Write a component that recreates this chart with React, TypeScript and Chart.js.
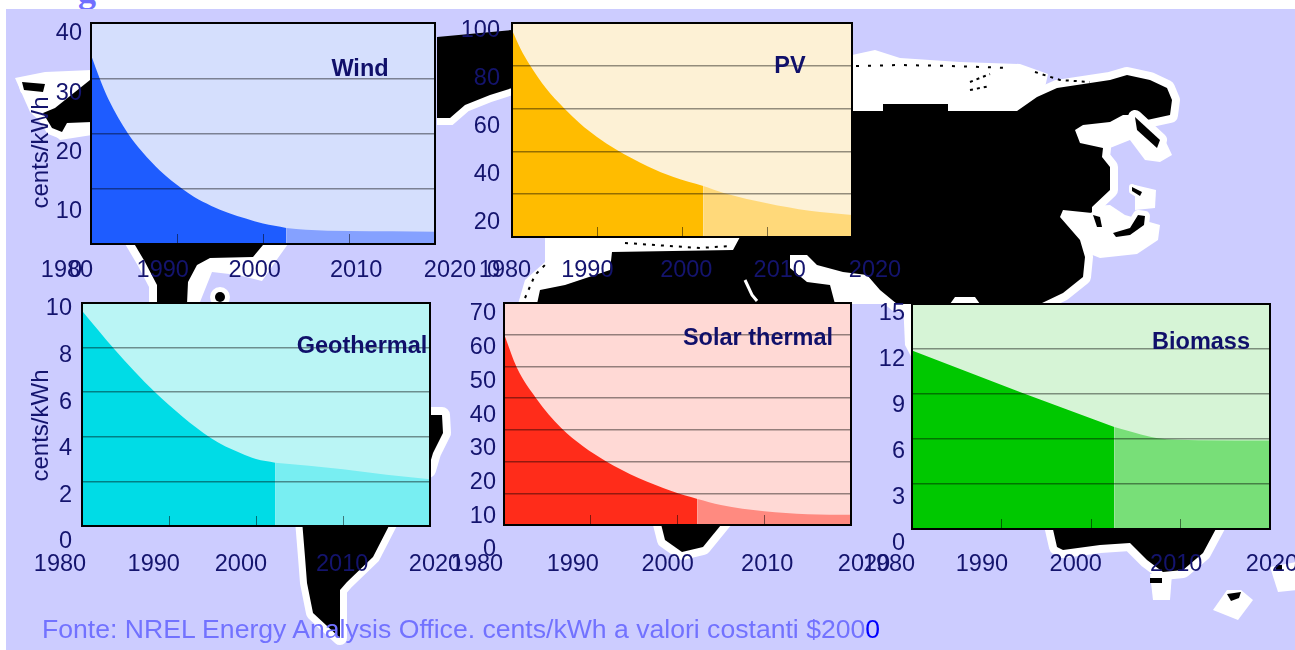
import React, { useEffect, useRef } from "react";
import { Chart, registerables } from "chart.js";

Chart.register(...registerables);

const yearTicks = [1980, 1990, 2000, 2010, 2020];

const windPastYears = [1980, 1981, 1982, 1984.3, 1986, 1988, 1990.6, 1992, 1994, 1996, 1998, 2000, 2002.7];
const windPastValues = [34.2, 30, 26.3, 20, 16.6, 13.3, 10, 8.5, 6.9, 5.6, 4.6, 3.7, 2.9];
const windNextYears = [2002.7, 2005, 2010, 2015, 2020];
const windNextValues = [2.9, 2.6, 2.35, 2.3, 2.2];

const pvPastYears = [1980, 1981, 1982.1, 1984, 1986.1, 1988, 1990, 1992.2, 1996, 1999, 2002.5];
const pvPastValues = [96.7, 88, 80.4, 69.5, 60.3, 53, 46.7, 41, 33, 28, 23.8];
const pvNextYears = [2002.5, 2005, 2010, 2015, 2020];
const pvNextValues = [23.8, 20.5, 15.8, 12.3, 10.3];

const geoPastYears = [1980, 1983.7, 1988.4, 1994.8, 1998.2, 2000, 2002.2];
const geoPastValues = [9.65, 7.94, 6, 3.95, 3.27, 3, 2.84];
const geoNextYears = [2002.2, 2010, 2015, 2020];
const geoNextValues = [2.84, 2.55, 2.3, 2.1];

const solarPastYears = [1980, 1981.5, 1983.7, 1986.6, 1991.7, 1999.3, 2002.3];
const solarPastValues = [60.2, 49.5, 40, 30.6, 20.2, 10.7, 8.2];
const solarNextYears = [2002.3, 2005, 2010, 2015, 2020];
const solarNextValues = [8.2, 6.3, 4.3, 3.4, 3.2];

const bioPastYears = [1980, 1992.2, 2002.6];
const bioPastValues = [11.9, 9.1, 6.8];
const bioNextYears = [2002.6, 2005, 2007.3, 2012, 2020];
const bioNextValues = [6.8, 6.4, 6.07, 5.92, 5.9];

const INK = "#14146E";
const FAMILY = "'Liberation Sans', Arial, sans-serif";
const PAGE_W = 1295;
const PAGE_H = 650;

type Panel = {
  name: string;
  yMax: number;
  yStep: number;
  past: [number[], number[]];
  next: [number[], number[]];
  colors: { bg: string; dark: string; light: string };
  frame: { l: number; t: number; r: number; b: number };
  labels: { l: number; t: number; r: number; b: number; yRight: number; xGap: number; nudge: number[] };
  titleAt: [number, number];
  unit: boolean;
};

const panels: Panel[] = [
  {
    name: "Wind", yMax: 40, yStep: 10,
    past: [windPastYears, windPastValues], next: [windNextYears, windNextValues],
    colors: { bg: "#D5DFFD", dark: "#1E5CFF", light: "#85A1FF" },
    frame: { l: 91, t: 23, r: 435, b: 244 },
    labels: { l: 67, t: 34, r: 450, b: 271, yRight: 82, xGap: -3, nudge: [0, 0, -0.4, 0.2, 0] },
    titleAt: [360, 70], unit: true,
  },
  {
    name: "PV", yMax: 100, yStep: 20,
    past: [pvPastYears, pvPastValues], next: [pvNextYears, pvNextValues],
    colors: { bg: "#FDF1D5", dark: "#FFBC00", light: "#FFD97A" },
    frame: { l: 512, t: 23, r: 852, b: 237 },
    labels: { l: 505, t: 31, r: 875, b: 271, yRight: 500, xGap: -3, nudge: [0, -1.1, -0.4, -0.3, 0] },
    titleAt: [790, 67], unit: false,
  },
  {
    name: "Geothermal", yMax: 10, yStep: 2,
    past: [geoPastYears, geoPastValues], next: [geoNextYears, geoNextValues],
    colors: { bg: "#BAF5F5", dark: "#00DCE6", light: "#78EEF2" },
    frame: { l: 82, t: 303, r: 430, b: 526 },
    labels: { l: 60, t: 309, r: 435, b: 542, yRight: 72, xGap: 20, nudge: [0, 0, -0.7, 0.1, 0] },
    titleAt: [362, 347], unit: true,
  },
  {
    name: "Solar thermal", yMax: 70, yStep: 10,
    past: [solarPastYears, solarPastValues], next: [solarNextYears, solarNextValues],
    colors: { bg: "#FFD9D5", dark: "#FF2C1A", light: "#FF8A80" },
    frame: { l: 504, t: 303, r: 851, b: 525 },
    labels: { l: 477, t: 314, r: 864, b: 550, yRight: 496, xGap: 12, nudge: [0, -0.1, -0.3, 0, 0] },
    titleAt: [758, 339], unit: false,
  },
  {
    name: "Biomass", yMax: 15, yStep: 3,
    past: [bioPastYears, bioPastValues], next: [bioNextYears, bioNextValues],
    colors: { bg: "#D6F4D6", dark: "#00C800", light: "#78DF78" },
    frame: { l: 912, t: 304, r: 1270, b: 529 },
    labels: { l: 889, t: 314, r: 1272, b: 544, yRight: 905, xGap: 18, nudge: [0, -0.3, -0.5, 0, 0] },
    titleAt: [1201, 343], unit: false,
  },
];

const zeroFit = (s: any) => {
  s.width = s.isHorizontal() ? s.width : 0;
  s.height = s.isHorizontal() ? 0 : s.height;
  s.paddingLeft = s.paddingRight = s.paddingTop = s.paddingBottom = 0;
};

function toXY(series: [number[], number[]]) {
  return series[0].map((x, i) => ({ x, y: series[1][i] }));
}

function makePlot(canvas: HTMLCanvasElement, p: Panel) {
  const { l, t, r, b } = p.frame;
  return new Chart(canvas, {
    type: "line",
    data: {
      datasets: [
        { label: p.name + " actual", data: toXY(p.past), backgroundColor: p.colors.dark, borderWidth: 0, pointRadius: 0, fill: "origin", cubicInterpolationMode: "monotone" },
        { label: p.name + " forecast", data: toXY(p.next), backgroundColor: p.colors.light, borderWidth: 0, pointRadius: 0, fill: "origin", cubicInterpolationMode: "monotone" },
      ] as any,
    },
    options: {
      animation: false, responsive: false, devicePixelRatio: 1,
      layout: { padding: { left: l, top: t, right: PAGE_W - r, bottom: PAGE_H - b } },
      plugins: { legend: { display: false }, tooltip: { enabled: false } },
      scales: {
        x: {
          type: "linear", min: 1980, max: 2020,
          border: { display: false },
          ticks: { display: false, stepSize: 10 },
          afterFit: zeroFit,
          grid: { drawOnChartArea: false, drawTicks: true, tickLength: -10, tickColor: "rgba(0,0,0,0.5)", z: 1 },
        },
        y: {
          min: 0, max: p.yMax,
          border: { display: false },
          ticks: { display: false, stepSize: p.yStep },
          afterFit: zeroFit,
          grid: { color: "rgba(0,0,0,0.42)", drawTicks: false, lineWidth: 1.5, z: 1 },
        },
      },
    } as any,
    plugins: [
      {
        id: "panelPaint",
        beforeDraw(c: any) {
          const a = c.chartArea;
          c.ctx.save();
          c.ctx.fillStyle = p.colors.bg;
          c.ctx.fillRect(a.left, a.top, a.width, a.height);
          c.ctx.restore();
        },
        afterDraw(c: any) {
          const a = c.chartArea;
          const g = c.ctx;
          g.save();
          g.strokeStyle = "#000";
          g.lineWidth = 2;
          g.strokeRect(a.left, a.top, a.width, a.height);
          g.fillStyle = "#10106A";
          g.font = `bold 23.5px ${FAMILY}`;
          g.textAlign = "center";
          g.textBaseline = "middle";
          g.fillText(p.name, p.titleAt[0], p.titleAt[1]);
          g.restore();
        },
      },
    ] as any,
  });
}

function makeLabels(canvas: HTMLCanvasElement, p: Panel) {
  const { l, t, r, b, yRight, xGap, nudge } = p.labels;
  const yAxisW = p.unit ? l - 27 : 40;
  return new Chart(canvas, {
    type: "line",
    data: { datasets: [] },
    options: {
      animation: false, responsive: false, devicePixelRatio: 1,
      layout: { padding: { left: l - yAxisW, top: t, right: PAGE_W - r, bottom: PAGE_H - b } },
      plugins: { legend: { display: false }, tooltip: { enabled: false } },
      scales: {
        x: {
          type: "linear", min: 1980, max: 2020,
          border: { display: false },
          grid: { display: false, drawTicks: false },
          afterBuildTicks: (s: any) => {
            s.ticks = yearTicks.map((y, i) => ({ value: y + nudge[i] }));
          },
          afterFit: zeroFit,
          ticks: {
            color: INK, font: { family: FAMILY, size: 23.5 },
            autoSkip: false, maxRotation: 0, minRotation: 0,
            padding: xGap - 12,
            callback: (_v: any, i: number) => String(yearTicks[i]),
          },
        },
        y: {
          min: 0, max: p.yMax,
          border: { display: false },
          grid: { display: false, drawTicks: false },
          afterFit: (s: any) => {
            s.width = yAxisW;
            s.paddingLeft = s.paddingRight = s.paddingTop = s.paddingBottom = 0;
          },
          ticks: {
            color: INK, font: { family: FAMILY, size: 23.5 },
            stepSize: p.yStep, autoSkip: false,
            padding: l - yRight,
          },
          title: {
            display: p.unit, text: "cents/kWh", color: INK,
            font: { family: FAMILY, size: 24 }, padding: 0,
          },
        },
      },
    } as any,
    plugins: [
      {
        id: "unclippedLabels",
        afterLayout(c: any) {
          c.scales.x._computeLabelArea = () => undefined;
          c.scales.y._computeLabelArea = () => undefined;
        },
      },
    ] as any,
  });
}

const dots = "3 9";

function WorldMap() {
  const halo = { fill: "#000", stroke: "#fff", strokeWidth: 18, strokeLinejoin: "round", paintOrder: "stroke" } as any;
  return (
    <svg width={PAGE_W} height={PAGE_H} style={{ position: "absolute", left: 0, top: 0 }}>
      <rect x={6} y={9} width={PAGE_W - 6} height={PAGE_H - 9} fill="#CCCCFF" />
      <g fill="#fff">
        <polygon points="852,55 875,50 900,58 960,62 1020,64 1048,74 1040,110 852,118" />
        <polygon points="15,78 45,72 92,70 92,135 60,140 30,112" />
        <polygon points="545,238 735,238 735,252 612,252 612,262 565,288 537,304 518,304 525,280 545,262" />
        <polygon points="903,300 914,300 914,362 905,345" />
        <polygon points="263,244 288,244 278,258 262,281 238,275 212,272 200,302 184,302 188,275 210,250" />
        <polygon points="1135,185 1156,190 1155,208 1135,210" />
        <polygon points="1058,208 1110,205 1125,215 1160,225 1158,240 1137,254 1100,258 1080,250" />
        <polygon points="1130,120 1150,122 1165,140 1172,155 1160,162 1145,160 1130,140" />
        <polygon points="1076,122 1130,112 1130,140 1105,150 1080,145" />
        <polygon points="1150,574 1172,574 1170,600 1153,600" />
        <polygon points="1227,590 1241,590 1253,600 1238,620 1213,610" />
        <polygon points="1270,567 1297,562 1297,590 1278,592" />
        <polygon points="790,252 808,252 820,262 873,277 897,298 900,304 835,304 830,285 807,282" />
      </g>
      <polyline points="437,118 450,118 465,105 490,95 512,88" fill="none" stroke="#fff" strokeWidth={14} />
      <polygon fill="#000" points="437,37 512,30 512,88 490,95 465,105 450,118 437,118" />
      <polygon {...halo} strokeWidth={16} fill="#000" points="852,111 883,111 883,104 948,104 948,111 1017,111 1037,97 1057,88 1110,80 1127,75 1150,80 1167,88 1172,100 1170,115 1147,120 1137,115 1123,115 1110,122 1083,125 1075,130 1080,143 1103,148 1102,157 1110,167 1110,190 1092,207 1092,213 1063,210 1060,217 1080,240 1085,257 1083,277 1063,293 1040,304 980,304 975,297 955,297 950,304 897,304 880,290 867,275 843,272 817,265 807,255 790,255 790,268 807,282 830,285 835,304 537,304 540,290 565,285 610,270 612,252 733,250 740,237 852,237" />
      <g {...halo}>
        <polygon points="1135,117 1160,140 1157,148 1137,130" strokeWidth={14} />
        <polygon points="1132,187 1142,192 1140,196 1132,191" strokeWidth={6} />
        <polygon points="1093,215 1100,217 1102,227 1097,227" strokeWidth={6} />
        <polygon points="1113,233 1130,228 1138,215 1145,216 1144,225 1130,235 1116,237" strokeWidth={10} />
        <polygon points="22,82 45,84 43,92 24,90" strokeWidth={8} />
        <polygon points="43,113 55,108 90,80 92,122 67,123 62,132 52,128" strokeWidth={14} />
        <polygon points="132,240 268,240 263,245 253,257 210,258 197,265 188,282 187,304 157,304 157,285 145,262" strokeWidth={16} />
        <circle cx={220} cy={297} r={5} strokeWidth={10} />
        <polygon points="430,415 442,415 443,433 433,453 428,470" strokeWidth={16} />
        <polygon points="302,520 392,520 373,557 347,582 340,590 340,638 313,613 307,583 305,557" strokeWidth={14} />
        <polygon points="660,520 725,520 703,547 682,552 665,540" strokeWidth={16} />
        <polygon points="1052,525 1218,525 1203,553 1183,570 1163,572 1147,560 1130,543 1100,545 1063,550 1057,547" strokeWidth={16} />
      </g>
      <rect x={1150} y={578} width={12} height={5} fill="#000" />
      <polygon fill="#000" points="1227,594 1241,592 1239,598 1231,601" />
      <rect x={1276} y={565} width={6} height={6} fill="#000" />
      <polyline points="856,66 900,65 950,66 1010,68" stroke="#000" strokeWidth={2} strokeDasharray={dots} fill="none" />
      <polyline points="970,82 985,76 990,74" stroke="#000" strokeWidth={2} strokeDasharray="3 4" fill="none" />
      <polyline points="970,90 990,86" stroke="#000" strokeWidth={2} strokeDasharray="3 4" fill="none" />
      <polyline points="1035,72 1060,80 1090,82" stroke="#000" strokeWidth={2} strokeDasharray="3 5" fill="none" />
      <polyline points="625,243 700,248 730,246" stroke="#000" strokeWidth={2} strokeDasharray="3 6" fill="none" />
      <polyline points="525,298 535,275 548,262" stroke="#000" strokeWidth={2} strokeDasharray="3 6" fill="none" />
      <polyline points="745,280 752,295 757,301" stroke="#fff" strokeWidth={3} fill="none" />
    </svg>
  );
}

export default function App() {
  const host = useRef<HTMLDivElement>(null);
  useEffect(() => {
    const charts: Chart[] = [];
    const root = host.current!;
    const addCanvas = () => {
      const c = document.createElement("canvas");
      c.width = PAGE_W;
      c.height = PAGE_H;
      c.style.cssText = "position:absolute;left:0;top:0;width:1295px;height:650px;pointer-events:none";
      root.appendChild(c);
      return c;
    };
    panels.forEach((p) => charts.push(makePlot(addCanvas(), p)));
    panels.forEach((p) => charts.push(makeLabels(addCanvas(), p)));
    return () => {
      charts.forEach((c) => c.destroy());
      root.innerHTML = "";
    };
  }, []);
  return (
    <div style={{ position: "absolute", left: 0, top: 0, width: PAGE_W, height: PAGE_H, overflow: "hidden", background: "#fff" }}>
      <div style={{ position: "absolute", left: 78, top: -31, font: "bold 36px 'Liberation Serif', serif", color: "#7070FF" }}>g</div>
      <WorldMap />
      <div ref={host} style={{ position: "absolute", left: 0, top: 0, width: PAGE_W, height: PAGE_H }} />
      <div style={{ position: "absolute", left: 42, top: 614, font: `26.6px ${FAMILY}`, color: "#7272FF", whiteSpace: "nowrap" }}>
        Fonte: NREL Energy Analysis Office. cents/kWh a valori costanti $200<span style={{ color: "#0000FF" }}>0</span>
      </div>
    </div>
  );
}
